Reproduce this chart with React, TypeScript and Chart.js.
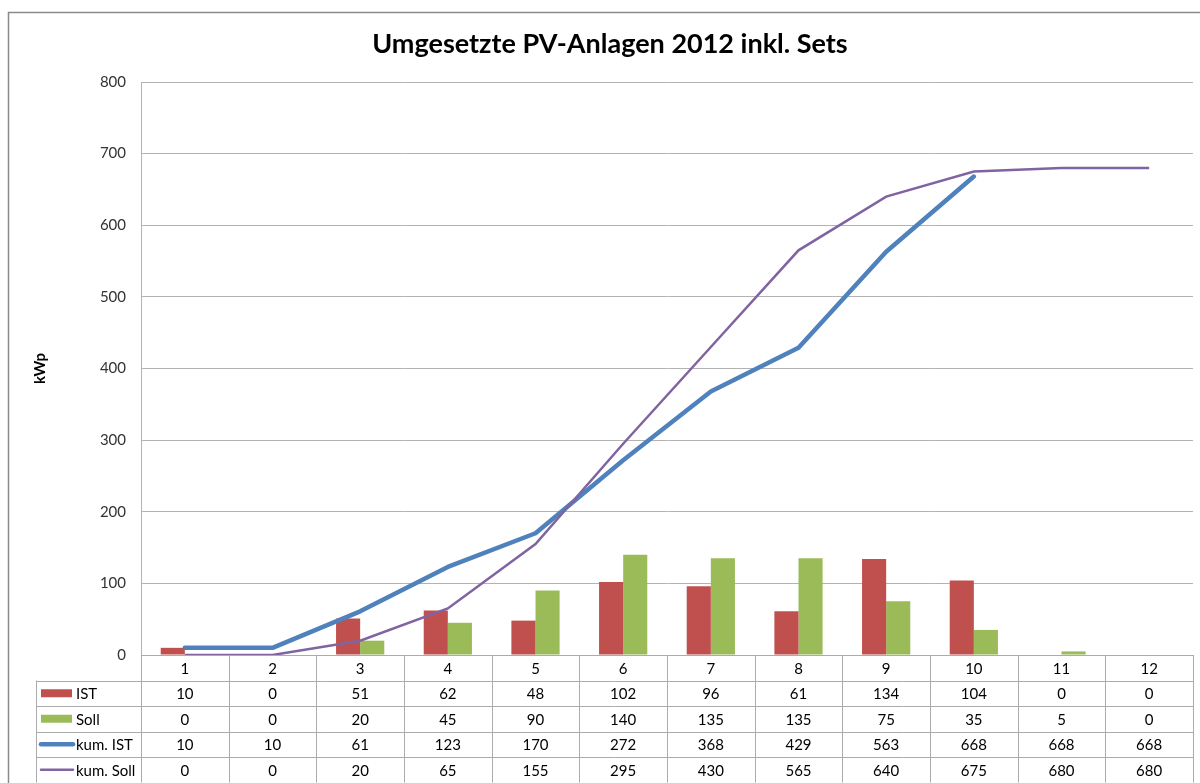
import React, { useEffect, useRef } from "react";
import { Chart, registerables } from "chart.js";

Chart.register(...registerables);

const title = "Umgesetzte PV-Anlagen 2012 inkl. Sets";
const yAxisLabel = "kWp";
const months = ["1", "2", "3", "4", "5", "6", "7", "8", "9", "10", "11", "12"];
const yTicks = [0, 100, 200, 300, 400, 500, 600, 700, 800];
const ist = [10, 0, 51, 62, 48, 102, 96, 61, 134, 104, 0, 0];
const soll = [0, 0, 20, 45, 90, 140, 135, 135, 75, 35, 5, 0];
const kumIst = [10, 10, 61, 123, 170, 272, 368, 429, 563, 668, 668, 668];
const kumSoll = [0, 0, 20, 65, 155, 295, 430, 565, 640, 675, 680, 680];
const lastReportedMonth = 10;

const seriesNames = ["IST", "Soll", "kum. IST", "kum. Soll"];
const colors = ["#C0504D", "#9BBB59", "#4F81BD", "#8064A2"];

const FONT = "Lato, 'Open Sans', sans-serif";

const tablePlugin = {
  id: "excelTable",
  beforeDraw(chart: any) {
    const ctx = chart.ctx;
    ctx.save();
    ctx.fillStyle = "#ffffff";
    ctx.fillRect(0, 0, chart.width, chart.height);
    ctx.strokeStyle = "#8a8a8a";
    ctx.lineWidth = 1.5;
    ctx.strokeRect(8.5, 12.5, 1400, 1000);
    // title
    let size = 27;
    ctx.font = `bold ${size}px ${FONT}`;
    while (ctx.measureText(title).width > 476 && size > 10) {
      size -= 0.5;
      ctx.font = `bold ${size}px ${FONT}`;
    }
    ctx.fillStyle = "#000000";
    ctx.textAlign = "center";
    ctx.textBaseline = "alphabetic";
    ctx.fillText(title, 610, 53);
    ctx.restore();
  },
  afterDraw(chart: any) {
    const ctx = chart.ctx;
    const xs = chart.scales.x;
    const area = chart.chartArea;
    const n = months.length;
    const catW = (area.right - area.left) / n;
    const top = area.bottom;
    const rowH = 25.5;
    const legendLeft = 36;
    const rows = [ist, soll, kumIst, kumSoll];
    ctx.save();
    ctx.strokeStyle = "#ababab";
    ctx.lineWidth = 1;
    const hl = (y: number, x0: number, x1: number) => {
      ctx.beginPath();
      ctx.moveTo(x0, Math.round(y) + 0.5);
      ctx.lineTo(x1, Math.round(y) + 0.5);
      ctx.stroke();
    };
    const vl = (x: number, y0: number, y1: number) => {
      ctx.beginPath();
      ctx.moveTo(Math.round(x) + 0.5, y0);
      ctx.lineTo(Math.round(x) + 0.5, y1);
      ctx.stroke();
    };
    const bottom = top + rowH * 5;
    hl(top, area.left, area.right);
    for (let r = 1; r <= 5; r++) hl(top + rowH * r, legendLeft, area.right);
    vl(legendLeft, top + rowH, bottom);
    for (let i = 0; i <= n; i++) vl(area.left + catW * i, top, bottom);

    ctx.font = `15px ${FONT}`;
    ctx.fillStyle = "#000000";
    ctx.textAlign = "center";
    ctx.textBaseline = "middle";
    for (let i = 0; i < n; i++) {
      const cx = xs.getPixelForValue(i);
      ctx.fillText(months[i], cx, top + rowH / 2 + 1);
      rows.forEach((row, r) => {
        ctx.fillText(String(row[i]), cx, top + rowH * (r + 1) + rowH / 2 + 1);
      });
    }
    ctx.textAlign = "left";
    seriesNames.forEach((name, r) => {
      const cy = top + rowH * (r + 1) + rowH / 2;
      if (r < 2) {
        ctx.fillStyle = colors[r];
        ctx.fillRect(41, cy - 4, 31, 8);
      } else {
        ctx.strokeStyle = colors[r];
        ctx.lineWidth = r === 2 ? 4.5 : 2.5;
        ctx.lineCap = "round";
        ctx.beginPath();
        ctx.moveTo(41, cy);
        ctx.lineTo(73, cy);
        ctx.stroke();
      }
      ctx.fillStyle = "#000000";
      ctx.fillText(name, 76, cy + 1);
    });
    ctx.restore();
  },
};

export default function App() {
  const ref = useRef<HTMLCanvasElement | null>(null);
  useEffect(() => {
    if (!ref.current) return;
    const chart = new Chart(ref.current, {
      type: "bar",
      data: {
        labels: months,
        datasets: [
          {
            type: "line",
            label: seriesNames[3],
            data: kumSoll,
            borderColor: colors[3],
            backgroundColor: colors[3],
            borderWidth: 2.5,
            pointRadius: 0,
            tension: 0,
            order: 1,
          } as any,
          {
            type: "line",
            label: seriesNames[2],
            data: kumIst.map((v, i) => (i < lastReportedMonth ? v : null)),
            borderColor: colors[2],
            backgroundColor: colors[2],
            borderWidth: 4.5,
            borderCapStyle: "round",
            borderJoinStyle: "round",
            pointRadius: 0,
            tension: 0,
            order: 2,
          } as any,
          {
            type: "bar",
            label: seriesNames[0],
            data: ist,
            backgroundColor: colors[0],
            categoryPercentage: 0.55,
            barPercentage: 1,
            order: 3,
          },
          {
            type: "bar",
            label: seriesNames[1],
            data: soll,
            backgroundColor: colors[1],
            categoryPercentage: 0.55,
            barPercentage: 1,
            order: 3,
          },
        ],
      },
      options: {
        responsive: false,
        devicePixelRatio: 1,
        animation: false,
        layout: { padding: { left: 30, right: 7, top: 82, bottom: 0 } },
        plugins: {
          legend: { display: false },
          tooltip: { enabled: false },
          title: { display: false },
        },
        scales: {
          x: {
            ticks: { display: false },
            grid: { display: false },
            border: { display: false },
            afterFit: (s: any) => {
              s.height = 128;
            },
          },
          y: {
            min: 0,
            max: 800,
            afterBuildTicks: (s: any) => {
              s.ticks = yTicks.map((v) => ({ value: v }));
            },
            ticks: {
              font: { family: FONT, size: 15 },
              color: "#333333",
              padding: 15,
            },
            grid: { color: "#b3b3b3", drawTicks: false },
            border: { color: "#b3b3b3" },
            title: {
              display: true,
              text: yAxisLabel,
              font: { family: FONT, size: 15, weight: "bold" },
              color: "#000000",
              padding: { top: 1, bottom: 0 },
            },
            afterFit: (s: any) => {
              s.width = 111;
            },
          },
        },
      },
      plugins: [tablePlugin],
    });
    return () => chart.destroy();
  }, []);
  return (
    <div style={{ position: "fixed", left: 0, top: 0, width: 1200, height: 783, overflow: "hidden", background: "#fff" }}>
      <canvas ref={ref} width={1200} height={783} style={{ display: "block", width: 1200, height: 783 }} />
    </div>
  );
}
